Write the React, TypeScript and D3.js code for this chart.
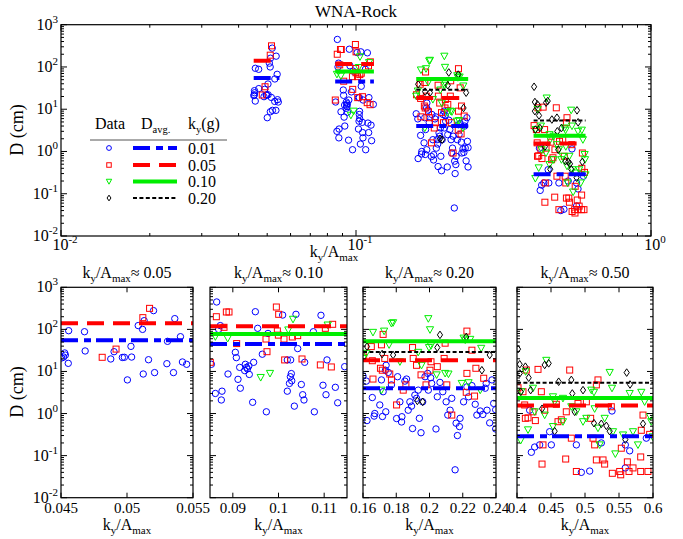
import React from "react";
import * as d3 from "d3";

type Pt = [number, number];

// ---------- data ----------
const kyLabels = ["0.01", "0.05", "0.10", "0.20"];
const groupTitles = ["0.05", "0.10", "0.20", "0.50"];
const groupDomains: [number, number][] = [[0.045, 0.055], [0.085, 0.115], [0.16, 0.24], [0.4, 0.6]];
const groupTicks = [[0.045, 0.05, 0.055], [0.09, 0.1, 0.11], [0.16, 0.18, 0.2, 0.22, 0.24], [0.4, 0.45, 0.5, 0.55, 0.6]];
const groupTickLabels = [["0.045", "0.05", "0.055"], ["0.09", "0.1", "0.11"], ["0.16", "0.18", "0.2", "0.22", "0.24"], ["0.4", "0.45", "0.5", "0.55", "0.6"]];

// averages per group (ky = 0.01, 0.05, 0.10, 0.20)
const avgK01 = [55, 45, 4.0, 0.29];
const avgK05 = [140, 118, 18.5, 1.55];
const avgK10 = [null, 78, 52, 2.35];
const avgK20 = [null, null, 29, 5.4];

const g05_k01: Pt[] = [[0.04505, 21], [0.0452, 22], [0.04528, 27.5], [0.04533, 24.5], [0.04555, 15.6], [0.04558, 93], [0.04678, 88], [0.04683, 30.7], [0.04877, 19.8], [0.04902, 29.5], [0.04965, 21.5], [0.0498, 21.7], [0.05003, 6.3], [0.05035, 22], [0.0503, 39.5], [0.05085, 123], [0.05118, 100], [0.0513, 161], [0.05123, 8.7], [0.05163, 19], [0.05201, 279], [0.05209, 9.4], [0.05307, 52], [0.05302, 15.3], [0.05352, 9.4], [0.05362, 180], [0.05405, 67], [0.0542, 16.8], [0.05452, 14.8]];
const g05_k05: Pt[] = [[0.04812, 21.7], [0.04917, 34], [0.0512, 190], [0.05171, 316]];

const g10_k01: Pt[] = [[0.08646, 448], [0.08726, 123], [0.0869, 100], [0.0853, 14.8], [0.08617, 3.0], [0.08763, 3.4], [0.08748, 2.1], [0.08894, 8.7], [0.09055, 28.5], [0.09077, 21.3], [0.09113, 6.5], [0.0915, 12.5], [0.09164, 4.0], [0.09274, 14.8], [0.093, 12.5], [0.0935, 13.5], [0.0932, 11.5], [0.0926, 10.5], [0.0936, 8.5], [0.09456, 16.5], [0.09434, 1.85], [0.09493, 263], [0.09544, 106], [0.09646, 25.7], [0.09734, 1.1], [0.0977, 80], [0.10091, 219], [0.10193, 18.8], [0.10266, 18.8], [0.10281, 8.9], [0.1026, 7.5], [0.1024, 5.2], [0.1029, 6.0], [0.10193, 3.4], [0.10347, 1.5], [0.10383, 228], [0.1042, 35], [0.105, 4.9], [0.1053, 2.8], [0.10558, 2.1], [0.10573, 16.5], [0.10763, 88], [0.10785, 1.1], [0.1093, 216], [0.10974, 4.7], [0.1104, 2.8], [0.11062, 18.8], [0.11245, 4.2], [0.11296, 1.8], [0.11449, 13]];
const g10_k05: Pt[] = [[0.08639, 200], [0.08507, 16.5], [0.08858, 259], [0.08916, 259], [0.08807, 112], [0.09084, 46], [0.09726, 59], [0.09748, 29.5], [0.09953, 340], [0.10004, 228], [0.09975, 92], [0.1012, 59], [0.09997, 73], [0.10135, 18.8], [0.10303, 66], [0.1042, 71], [0.10515, 19.8], [0.10916, 14.3], [0.11026, 106], [0.11157, 12.8], [0.11186, 132]];
const g10_k10: Pt[] = [[0.08617, 67], [0.08887, 61], [0.0961, 7.2], [0.09814, 9.0], [0.10318, 174], [0.10215, 97], [0.11077, 127]];

const g20_k01: Pt[] = [[0.16, 7.8], [0.162, 5.9], [0.1624, 0.68], [0.1656, 2.4], [0.1667, 0.87], [0.1671, 1.0], [0.1701, 1.6], [0.1717, 0.85], [0.1711, 6.3], [0.1721, 3.3], [0.1735, 10.7], [0.1752, 9.5], [0.1739, 14], [0.1771, 4.8], [0.1802, 0.76], [0.1808, 7.5], [0.1832, 0.63], [0.1834, 0.84], [0.1852, 5.9], [0.1862, 6.6], [0.1872, 1.2], [0.1882, 1.9], [0.1892, 1.5], [0.1898, 0.44], [0.1912, 2.75], [0.1922, 2.3], [0.1932, 3.6], [0.1939, 0.77], [0.1949, 0.35], [0.1959, 1.9], [0.1973, 7.5], [0.1989, 9.0], [0.1993, 3.6], [0.2007, 7.1], [0.2013, 5.2], [0.2039, 0.43], [0.2047, 2.5], [0.2063, 5.5], [0.208, 3.3], [0.21, 1.9], [0.211, 0.92], [0.2124, 1.2], [0.2134, 2.3], [0.2154, 0.046], [0.216, 0.59], [0.2168, 0.3], [0.218, 0.49], [0.2184, 0.77], [0.2205, 1.9], [0.2225, 4.3], [0.2235, 2.5], [0.2255, 4.6], [0.2275, 1.66], [0.2285, 0.92], [0.2305, 1.15], [0.2321, 0.95], [0.2335, 4.0], [0.2341, 5.2], [0.2346, 1.2], [0.2362, 0.6], [0.2376, 6.3], [0.2386, 1.74], [0.2398, 1.23], [0.2398, 0.43], [0.1822, 1.9], [0.1737, 1.1]];
const g20_k05: Pt[] = [[0.1604, 22], [0.165, 39], [0.1656, 18], [0.166, 6.6], [0.1711, 43], [0.1721, 76], [0.1705, 11.9], [0.1716, 10.7], [0.1731, 20.4], [0.1761, 8.7], [0.1771, 6.3], [0.1842, 3.6], [0.1858, 4.8], [0.1898, 37], [0.1902, 20.4], [0.1922, 14], [0.1949, 8.3], [0.1979, 4.8], [0.2003, 10.7], [0.2009, 17], [0.2047, 13], [0.2094, 47], [0.2088, 20.4], [0.2104, 4.8], [0.2134, 0.92], [0.2225, 91], [0.2225, 9.0], [0.2221, 3.2], [0.2279, 11.9], [0.2271, 2.6], [0.2326, 6.9], [0.2255, 32], [0.1802, 1.6]];
const g20_k10: Pt[] = [[0.166, 85], [0.1727, 91], [0.1771, 139], [0.1781, 144], [0.1993, 180], [0.2003, 98], [0.1757, 43], [0.16, 20.4], [0.162, 27], [0.1822, 17], [0.1932, 28.5], [0.1952, 14], [0.1997, 37], [0.2009, 41], [0.2043, 8.3], [0.2094, 9], [0.2114, 8.7], [0.2205, 62], [0.2215, 56], [0.2245, 58], [0.2311, 35.5], [0.2194, 5.2], [0.2235, 5.4], [0.2305, 3.6], [0.1711, 3.6]];
const g20_k20: Pt[] = [[0.1624, 39], [0.1715, 26], [0.1781, 24.6], [0.1927, 2.0], [0.1959, 1.9], [0.2063, 74], [0.2047, 37], [0.2221, 66], [0.2315, 10.7], [0.2362, 24.6]];

const g50_k01: Pt[] = [[0.4186, 1.2], [0.426, 0.16], [0.4211, 0.12], [0.4333, 0.18], [0.4505, 0.18], [0.448, 0.37], [0.4873, 0.18], [0.4946, 0.04], [0.5069, 0.043], [0.524, 0.2], [0.5397, 1.15], [0.5593, 0.18], [0.5657, 0.13], [0.5593, 0.051], [0.5902, 0.26]];
const g50_k05: Pt[] = [[0.4015, 4.1], [0.4088, 3.3], [0.4123, 0.77], [0.4162, 0.79], [0.4137, 10.8], [0.4309, 11.2], [0.4358, 3.3], [0.4235, 1.1], [0.427, 0.68], [0.4382, 0.18], [0.4368, 0.063], [0.4407, 1.2], [0.4603, 0.64], [0.4578, 1.66], [0.4652, 0.71], [0.4716, 0.083], [0.4725, 1.1], [0.4799, 0.26], [0.4873, 0.042], [0.4897, 1.74], [0.502, 1.9], [0.5083, 0.77], [0.5118, 0.26], [0.5142, 0.18], [0.5167, 0.079], [0.5191, 6.3], [0.5167, 4.8], [0.5265, 0.079], [0.5289, 0.063], [0.5387, 1.45], [0.5402, 0.038], [0.551, 0.042], [0.5525, 0.035], [0.5534, 0.15], [0.5623, 0.071], [0.5647, 0.042], [0.5706, 0.051], [0.5819, 0.042], [0.5819, 0.093], [0.5853, 0.92], [0.5926, 0.042], [0.5951, 0.32], [0.5828, 0.4], [0.4775, 10.8], [0.4113, 1.6]];
const g50_k10: Pt[] = [[0.4431, 18.4], [0.4127, 9.9], [0.4064, 3.3], [0.4054, 0.23], [0.4162, 0.41], [0.426, 1.1], [0.4235, 4.0], [0.4407, 0.92], [0.4529, 0.49], [0.4554, 1.9], [0.4676, 0.64], [0.4799, 1.45], [0.4873, 1.1], [0.4971, 0.64], [0.502, 0.77], [0.5093, 3.6], [0.5132, 3.2], [0.5142, 1.3], [0.5191, 0.45], [0.5216, 0.18], [0.5289, 0.77], [0.5363, 9.5], [0.5397, 4.0], [0.5412, 0.37], [0.5446, 0.11], [0.5559, 0.31], [0.5657, 3.0], [0.5706, 0.37], [0.5779, 0.18], [0.5828, 3.2], [0.5877, 1.9], [0.5956, 0.85], [0.5975, 0.64], [0.5995, 0.28], [0.4676, 2.3], [0.4529, 2.5]];
const g50_k20: Pt[] = [[0.4015, 34], [0.404, 14.8], [0.404, 9.0], [0.4123, 13], [0.4172, 7.1], [0.4201, 3.6], [0.4054, 3.3], [0.4407, 14.3], [0.4466, 15.6], [0.4613, 5.7], [0.4799, 6.3], [0.4813, 3.0], [0.4848, 1.1], [0.4971, 3.6], [0.5132, 0.59], [0.524, 0.57], [0.5314, 0.51], [0.5363, 0.38], [0.5613, 9.4], [0.5662, 4.9], [0.5593, 0.24], [0.5853, 0.57], [0.4554, 0.38], [0.4368, 1.3]];

const groupData: Pt[][][] = [
  [g05_k01, g05_k05, [], []],
  [g10_k01, g10_k05, g10_k10, []],
  [g20_k01, g20_k05, g20_k10, g20_k20],
  [g50_k01, g50_k05, g50_k10, g50_k20],
];
const avgByKy = [avgK01, avgK05, avgK10, avgK20];

// ---------- styles ----------
const colors = ["#0000ff", "#ff0000", "#00ee00", "#000000"];
const lineStyles = [
  { w: 4, dash: "17,6,7,5" },
  { w: 4, dash: "17,9" },
  { w: 4, dash: "" },
  { w: 2, dash: "4,2.4" },
];
const FONT = "Liberation Serif";

function Marker({ k, x, y, s = 1 }: { k: number; x: number; y: number; s?: number }) {
  const c = colors[k];
  const common = { fill: "none", stroke: c, strokeWidth: 1 };
  if (k === 0) return <circle cx={x} cy={y} r={3.2 * s} {...common} />;
  if (k === 1) return <rect x={x - 3 * s} y={y - 3 * s} width={6 * s} height={6 * s} {...common} />;
  if (k === 2)
    return <path d={`M${x - 3.6 * s},${y - 3 * s}L${x + 3.6 * s},${y - 3 * s}L${x},${y + 3.6 * s}Z`} {...common} />;
  return <path d={`M${x},${y - 3.8 * s}L${x + 2.6 * s},${y}L${x},${y + 3.8 * s}L${x - 2.6 * s},${y}Z`} {...common} />;
}

function Pow({ x, y, e, anchor = "end" }: { x: number; y: number; e: number; anchor?: string }) {
  return (
    <text x={x} y={y} textAnchor={anchor as any} fontSize={16} fontFamily={FONT}>
      10<tspan fontSize={11} dy={-7}>{e}</tspan>
    </text>
  );
}

function KyLabel({ x, y, suffix }: { x: number; y: number; suffix?: string }) {
  return (
    <text x={x} y={y} textAnchor="middle" fontSize={16} fontFamily={FONT}>
      k<tspan fontSize={11} dy={4}>y</tspan>
      <tspan dy={-4}>/A</tspan>
      <tspan fontSize={11} dy={4}>max</tspan>
      {suffix ? <tspan dy={-4}>{suffix}</tspan> : null}
    </text>
  );
}

function LogYAxis({ y, x0, x1, labels }: { y: d3.ScaleLogarithmic<number, number>; x0: number; x1: number; labels: boolean }) {
  const els: React.ReactNode[] = [];
  for (let e = -2; e <= 3; e++) {
    const yy = y(Math.pow(10, e));
    els.push(<line key={`M${e}`} x1={x0} x2={x0 + 6} y1={yy} y2={yy} stroke="#000" />);
    els.push(<line key={`MR${e}`} x1={x1} x2={x1 - 6} y1={yy} y2={yy} stroke="#000" />);
    if (labels) els.push(<Pow key={`L${e}`} x={x0 - 3} y={yy + 5} e={e} />);
    if (e < 3)
      for (let m = 2; m <= 9; m++) {
        const ym = y(m * Math.pow(10, e));
        els.push(<line key={`m${e}${m}`} x1={x0} x2={x0 + 3} y1={ym} y2={ym} stroke="#000" />);
        els.push(<line key={`mR${e}${m}`} x1={x1} x2={x1 - 3} y1={ym} y2={ym} stroke="#000" />);
      }
  }
  return <g>{els}</g>;
}

function Panel({
  x, y, groups, clipId,
}: { x: any; y: d3.ScaleLogarithmic<number, number>; groups: number[]; clipId: string }) {
  const [xa, xb] = x.range();
  const [yb, ya] = y.range();
  return (
    <g>
      <defs>
        <clipPath id={clipId}>
          <rect x={xa} y={ya} width={xb - xa} height={yb - ya} />
        </clipPath>
      </defs>
      <g clipPath={`url(#${clipId})`}>
        {[0, 1, 2, 3].map((k) =>
          groups.map((g) =>
            groupData[g][k].map((p, i) => <Marker key={`${k}-${g}-${i}`} k={k} x={x(p[0])} y={y(p[1])} />)
          )
        )}
        {[0, 1, 2, 3].map((k) =>
          groups.map((g) => {
            const v = avgByKy[k][g];
            if (v == null) return null;
            const [d0, d1] = groupDomains[g];
            return (
              <line
                key={`a${k}-${g}`}
                x1={x(d0)}
                x2={x(d1)}
                y1={y(v)}
                y2={y(v)}
                stroke={colors[k]}
                strokeWidth={lineStyles[k].w}
                strokeDasharray={lineStyles[k].dash || undefined}
              />
            );
          })
        )}
      </g>
      <rect x={xa} y={ya} width={xb - xa} height={yb - ya} fill="none" stroke="#000" strokeWidth={1.2} />
    </g>
  );
}

export default function App() {
  const W = 683, H = 539;
  // top panel
  const xTop = d3.scaleLog().domain([0.01, 1]).range([61, 651]);
  const yTop = d3.scaleLog().domain([0.01, 1000]).range([236, 24.7]);
  const topTicks: React.ReactNode[] = [];
  for (let e = -2; e <= 0; e++) {
    const xx = xTop(Math.pow(10, e));
    topTicks.push(<line key={`t${e}`} x1={xx} x2={xx} y1={236} y2={230} stroke="#000" />);
    topTicks.push(<line key={`tt${e}`} x1={xx} x2={xx} y1={24.7} y2={30.7} stroke="#000" />);
    topTicks.push(<Pow key={`tl${e}`} x={xx + 4} y={250} e={e} anchor="middle" />);
    if (e < 0)
      for (let m = 2; m <= 9; m++) {
        const xm = xTop(m * Math.pow(10, e));
        topTicks.push(<line key={`tm${e}${m}`} x1={xm} x2={xm} y1={236} y2={233} stroke="#000" />);
        topTicks.push(<line key={`ttm${e}${m}`} x1={xm} x2={xm} y1={24.7} y2={27.7} stroke="#000" />);
      }
  }

  const panelX: [number, number][] = [[61, 193], [210, 347], [363, 496], [517, 653]];
  const yBot = d3.scaleLog().domain([0.01, 1000]).range([497.7, 287.3]);

  // legend rows
  const legendRowsY = [148, 165, 181.5, 198];

  return (
    <svg width={W} height={H} style={{ position: "absolute", left: 0, top: 0, background: "#fff" }}>
      <rect width={W} height={H} fill="#fff" />
      <text x={356} y={17} textAnchor="middle" fontSize={17} fontFamily={FONT}>WNA-Rock</text>

      {/* top panel */}
      <Panel x={xTop} y={yTop} groups={[0, 1, 2, 3]} clipId="ctop" />
      <LogYAxis y={yTop} x0={61} x1={651} labels={true} />
      {topTicks}
      <KyLabel x={334} y={257} />
      <text transform="translate(23,130) rotate(-90)" textAnchor="middle" fontSize={18} fontFamily={FONT}>D (cm)</text>

      {/* legend */}
      <g>
        <text x={110} y={129} textAnchor="middle" fontSize={16} fontFamily={FONT}>Data</text>
        <text x={141} y={129} fontSize={16} fontFamily={FONT}>D<tspan fontSize={10.5} dy={4}>avg.</tspan></text>
        <text x={188} y={129} fontSize={16} fontFamily={FONT}>k<tspan fontSize={10.5} dy={4}>y</tspan><tspan dy={-4}>(g)</tspan></text>
        <line x1={90} x2={227} y1={140} y2={140} stroke="#555" strokeWidth={1} />
        {kyLabels.map((lab, k) => (
          <g key={lab}>
            <Marker k={k} x={109} y={legendRowsY[k]} s={0.75} />
            <line x1={133} x2={177} y1={legendRowsY[k]} y2={legendRowsY[k]} stroke={colors[k]}
              strokeWidth={lineStyles[k].w} strokeDasharray={lineStyles[k].dash || undefined} />
            <text x={188} y={legendRowsY[k] + 5.5} fontSize={16} fontFamily={FONT}>{lab}</text>
          </g>
        ))}
      </g>

      {/* bottom panels */}
      {panelX.map((px, g) => {
        const xs = d3.scaleLinear().domain(groupDomains[g]).range(px);
        const cx = (px[0] + px[1]) / 2;
        return (
          <g key={`p${g}`}>
            <Panel x={xs} y={yBot} groups={[g]} clipId={`cb${g}`} />
            <LogYAxis y={yBot} x0={px[0]} x1={px[1]} labels={g === 0} />
            {groupTicks[g].map((t, i) => (
              <g key={`bt${i}`}>
                <line x1={xs(t)} x2={xs(t)} y1={497.7} y2={492.7} stroke="#000" />
                <line x1={xs(t)} x2={xs(t)} y1={287.3} y2={292.3} stroke="#000" />
                <text x={xs(t)} y={513} textAnchor="middle" fontSize={15} fontFamily={FONT}>{groupTickLabels[g][i]}</text>
              </g>
            ))}
            <KyLabel x={cx} y={530} />
            <KyLabel x={cx} y={278} suffix={"\u2248 " + groupTitles[g]} />
          </g>
        );
      })}
      <text transform="translate(23,392) rotate(-90)" textAnchor="middle" fontSize={18} fontFamily={FONT}>D (cm)</text>
    </svg>
  );
}
